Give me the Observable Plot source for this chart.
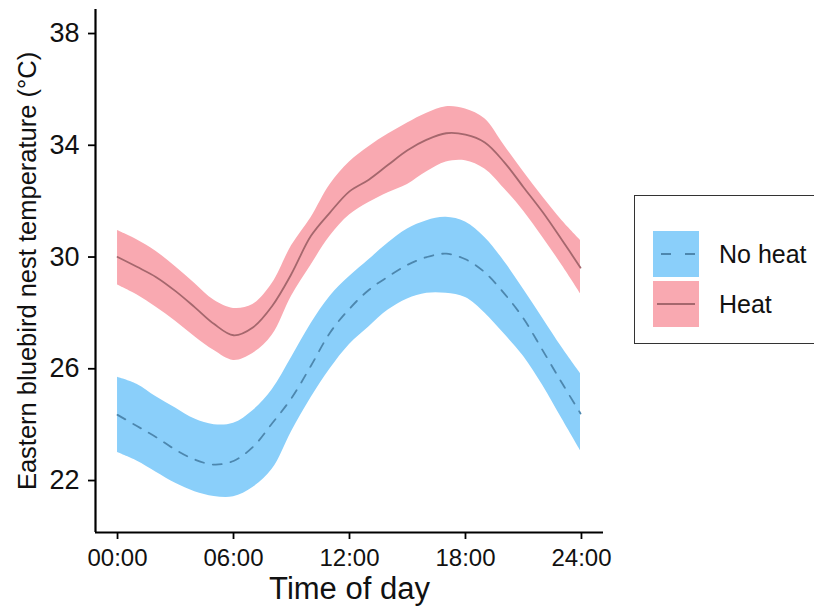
<!DOCTYPE html>
<html>
<head>
<meta charset="utf-8">
<script src="https://cdn.jsdelivr.net/npm/d3@7"></script>
<script src="https://cdn.jsdelivr.net/npm/@observablehq/plot@0.6"></script>
<style>
  html, body { margin: 0; padding: 0; background: #fff; }
  body { width: 814px; height: 614px; overflow: hidden; font-family: "Liberation Sans", Arial, Helvetica, sans-serif; }
  #wrap { position: relative; width: 814px; height: 614px; }
  #legend { position: absolute; left: 634px; top: 195px; width: 200px; height: 149px; border: 1.5px solid #333; box-sizing: border-box; background: #fff; }
  .key { position: absolute; left: 18px; width: 46px; height: 46px; }
  .lab { position: absolute; left: 84px; font-size: 25px; color: #111; line-height: 46px; }
</style>
</head>
<body>
<div id="wrap">
  <div id="chart"></div>
  <div id="legend"></div>
</div>
<script>
const hours = [0,1,2,3,4,5,6,7,8,9,10,11,12,13,14,15,16,17,18,19,20,21,22,23,23.95];

const heatMean  = [30.0,29.65,29.28,28.78,28.2,27.6,27.2,27.48,28.25,29.4,30.75,31.6,32.35,32.77,33.3,33.82,34.2,34.43,34.38,34.1,33.4,32.5,31.6,30.6,29.62];
const heatUpper = [30.95,30.62,30.2,29.65,29.05,28.45,28.16,28.3,29.05,30.4,31.4,32.6,33.4,33.95,34.4,34.8,35.15,35.38,35.3,34.95,34.0,33.05,32.15,31.3,30.6];
const heatLower = [29.0,28.65,28.2,27.7,27.15,26.65,26.3,26.55,27.2,28.6,29.7,30.75,31.5,31.95,32.3,32.6,33.05,33.4,33.45,33.15,32.45,31.65,30.7,29.7,28.69];

const noHeatMean  = [24.35,23.95,23.55,23.1,22.75,22.57,22.7,23.2,24.05,24.95,26.1,27.3,28.15,28.82,29.3,29.72,30.0,30.12,29.92,29.45,28.7,27.8,26.65,25.48,24.4];
const noHeatUpper = [25.7,25.45,25.0,24.6,24.2,24.0,24.05,24.5,25.25,26.4,27.6,28.6,29.3,29.9,30.5,31.0,31.3,31.42,31.25,30.7,29.85,28.85,27.8,26.75,25.83];
const noHeatLower = [23.0,22.7,22.3,21.9,21.6,21.43,21.42,21.75,22.4,23.75,24.95,26.0,26.87,27.5,28.1,28.5,28.7,28.7,28.55,28.0,27.25,26.45,25.4,24.2,23.07];

const groups = ["No heat", "Heat"];
const xTicks = [0, 6, 12, 18, 24];
const xTickLabels = ["00:00", "06:00", "12:00", "18:00", "24:00"];
const yTicks = [22, 26, 30, 34, 38];
const xTitle = "Time of day";
const yTitle = "Eastern bluebird nest temperature (°C)";

const bandColor = {"No heat": "#8ACFFA", "Heat": "#F9A9B1"};
const lineColor = {"No heat": "#4D87AE", "Heat": "#A5676D"};

const rows = [];
hours.forEach((h, i) => {
  rows.push({group: "Heat", hour: h, mean: heatMean[i], lower: heatLower[i], upper: heatUpper[i]});
  rows.push({group: "No heat", hour: h, mean: noHeatMean[i], lower: noHeatLower[i], upper: noHeatUpper[i]});
});
const heatRows = rows.filter(d => d.group === "Heat");
const noHeatRows = rows.filter(d => d.group === "No heat");

const xDomain = [-1.14, 25.14];
const yDomain = [20.14, 38.86];

const chart = Plot.plot({
  width: 620,
  height: 614,
  marginLeft: 95,
  marginRight: 17,
  marginTop: 9,
  marginBottom: 82,
  style: {fontFamily: "Liberation Sans, Arial, Helvetica, sans-serif", background: "#fff", overflow: "visible"},
  x: {domain: xDomain, axis: null},
  y: {domain: yDomain, axis: null},
  marks: [
    Plot.areaY(heatRows, {x: "hour", y1: "lower", y2: "upper", fill: bandColor["Heat"], curve: "catmull-rom"}),
    Plot.areaY(noHeatRows, {x: "hour", y1: "lower", y2: "upper", fill: bandColor["No heat"], curve: "catmull-rom"}),
    Plot.lineY(heatRows, {x: "hour", y: "mean", stroke: lineColor["Heat"], strokeWidth: 1.8, curve: "catmull-rom"}),
    Plot.lineY(noHeatRows, {x: "hour", y: "mean", stroke: lineColor["No heat"], strokeWidth: 1.8, strokeDasharray: "9,9", curve: "catmull-rom"}),
    Plot.axisX({ticks: xTicks, tickFormat: (d) => xTickLabels[xTicks.indexOf(d)], tickSize: 7, tickPadding: 9, fontSize: 24, stroke: "#000", strokeWidth: 1.8, fill: "#111", label: null}),
    Plot.axisY({ticks: yTicks, tickSize: 7, tickPadding: 9, fontSize: 27, stroke: "#000", strokeWidth: 1.8, fill: "#111", label: null}),
    Plot.ruleY([yDomain[0]], {stroke: "#000", strokeWidth: 2.2}),
    Plot.ruleX([xDomain[0]], {stroke: "#000", strokeWidth: 2.2}),
    Plot.text([xTitle], {frameAnchor: "bottom", textAnchor: "middle", dy: 66, fontSize: 31, fill: "#111"}),
    Plot.text([yTitle], {frameAnchor: "left", textAnchor: "middle", dx: -68, rotate: -90, fontSize: 25.5, fill: "#111"})
  ]
});
document.getElementById("chart").appendChild(chart);

// enforce tick label sizes
const yLabelSet = new Set(yTicks.map(String));
const xLabelSet = new Set(xTickLabels);
d3.select(chart).selectAll("text").each(function() {
  const t = this.textContent;
  if (yLabelSet.has(t)) { this.style.fontSize = "27px"; this.setAttribute("font-size", 27); }
  else if (xLabelSet.has(t)) { this.style.fontSize = "24px"; this.setAttribute("font-size", 24); }
});

// legend
const legend = document.getElementById("legend");
const keyTops = {"No heat": 35, "Heat": 85};
groups.forEach(g => {
  const key = document.createElement("div");
  key.className = "key";
  key.style.top = keyTops[g] + "px";
  key.style.background = bandColor[g];
  const svgNS = "http://www.w3.org/2000/svg";
  const s = document.createElementNS(svgNS, "svg");
  s.setAttribute("width", 46); s.setAttribute("height", 46);
  const ln = document.createElementNS(svgNS, "line");
  ln.setAttribute("x1", 4); ln.setAttribute("x2", 42);
  ln.setAttribute("y1", 23); ln.setAttribute("y2", 23);
  ln.setAttribute("stroke", lineColor[g]);
  ln.setAttribute("stroke-width", 1.8);
  if (g === "No heat") { ln.setAttribute("stroke-dasharray", "10,14"); ln.setAttribute("x1", 8); }
  s.appendChild(ln);
  key.appendChild(s);
  legend.appendChild(key);
  const lab = document.createElement("div");
  lab.className = "lab";
  lab.style.top = keyTops[g] + "px";
  lab.textContent = g;
  legend.appendChild(lab);
});
</script>
</body>
</html>
